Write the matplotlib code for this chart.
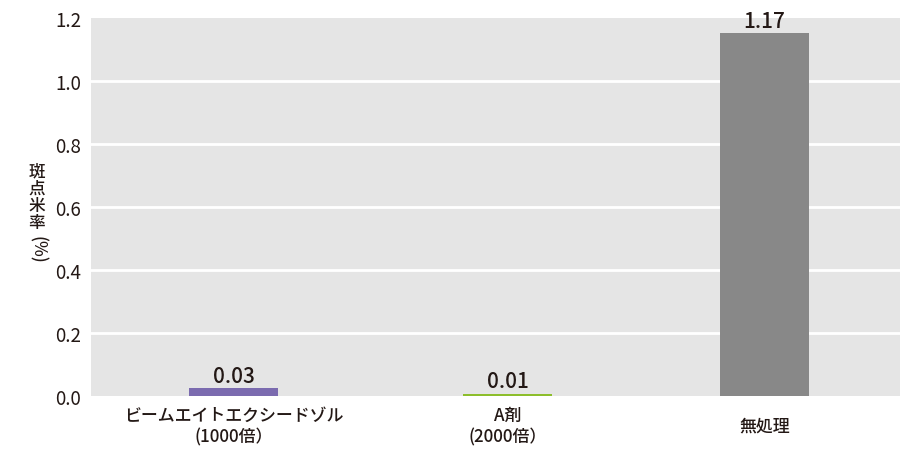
import matplotlib
matplotlib.use("Agg")
import matplotlib.pyplot as plt

plt.rcParams['font.family'] = ['Noto Sans CJK JP', 'DejaVu Sans']

categories = ["ビームエイトエクシードゾル\n(1000倍）", "A剤\n(2000倍）", "無処理"]
values = [0.025, 0.007, 1.152]
value_labels = ["0.03", "0.01", "1.17"]
colors = ["#7B6BAF", "#8DBE2C", "#888888"]
yticks = [0.0, 0.2, 0.4, 0.6, 0.8, 1.0, 1.2]

# layout (pixel-like x positions)
positions = [233.5, 507.5, 764.5]
bar_width = 89

W, H = 900, 452
fig = plt.figure(figsize=(W / 100, H / 100), dpi=100)
ax = fig.add_axes([91 / W, (H - 397) / H, 809 / W, 378 / H])
ax.set_facecolor("#E5E5E5")
ax.set_xlim(91, 900)
ax.set_ylim(0, 1.2)

for y in yticks[1:-1]:
    ax.axhline(y, color="white", lw=2, zorder=1)

ax.bar(positions, values, width=bar_width, color=colors, zorder=2)
for x, v, lab in zip(positions, values, value_labels):
    ax.annotate(lab, (x, v), xytext=(0, 1), textcoords="offset points",
                ha="center", va="bottom", fontsize=15, fontweight=500,
                color="#231815")

for s in ax.spines.values():
    s.set_visible(False)

ax.set_yticks(yticks)
ax.set_yticklabels([f"{t:.1f}" for t in yticks], fontsize=13.5, color="#231815")
ax.tick_params(axis="y", length=0, pad=7)
ax.set_xticks(positions)
ax.set_xticklabels(categories, fontsize=12.2, fontweight=500, color="#231815",
                   linespacing=1.25)
ax.tick_params(axis="x", length=0, pad=21.5)
for t in ax.get_xticklabels():
    t.set_va("center")

fig.text(37 / W, 1 - 197 / H, "斑\n点\n米\n率", ha="center", va="center",
         fontsize=12, fontweight=500, color="#231815", linespacing=0.95)
fig.text(37 / W, 1 - 250 / H, "(%)", ha="center", va="center", rotation=270,
         fontsize=12, fontweight=500, color="#231815")

fig.savefig("out.png", dpi=100)
